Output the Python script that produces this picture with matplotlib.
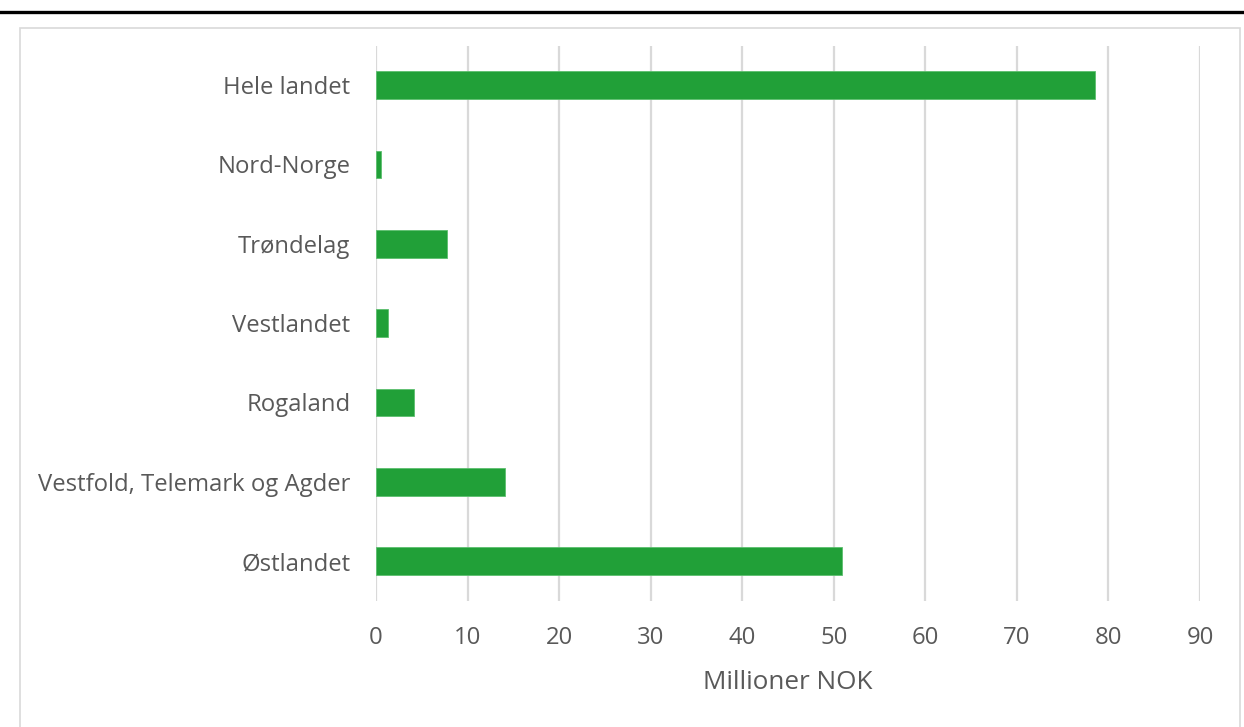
import matplotlib.pyplot as plt
from matplotlib.patches import Rectangle
from matplotlib.lines import Line2D

plt.rcParams['font.family'] = ['Open Sans', 'DejaVu Sans']

regions = ['Hele landet', 'Nord-Norge', 'Trøndelag', 'Vestlandet', 'Rogaland',
           'Vestfold, Telemark og Agder', 'Østlandet']
values = [78.5, 0.6, 7.8, 1.3, 4.2, 14.1, 50.9]
xticks = [0, 10, 20, 30, 40, 50, 60, 70, 80, 90]

txt = '#595959'
fig = plt.figure(figsize=(12.44, 7.27), dpi=100)

# thick rule under the (cropped) title, and the light frame
fig.add_artist(Line2D([0, 1], [1 - 12 / 727, 1 - 12 / 727], color='black', lw=2.4))
fig.add_artist(Rectangle((20 / 1244, -0.01), 1220 / 1244, 1 - 28 / 727 + 0.01,
                         fill=False, edgecolor='#D9D9D9', lw=1.2))

ax = fig.add_axes([376 / 1244, 1 - 600.7 / 727, (1200 - 376) / 1244, (600.7 - 45.5) / 727])
pos = list(range(len(regions)))[::-1]
ax.barh(pos, values, height=0.35, color='#21A038', edgecolor='#5CBF6E', lw=0.6, zorder=3)

ax.set_xlim(0, 90)
ax.set_ylim(-0.5, len(regions) - 0.5)
ax.set_xticks(xticks)
ax.set_yticks(pos)
ax.set_yticklabels(regions)
ax.grid(axis='x', color='#D9D9D9', lw=1.6, zorder=0)
ax.tick_params(length=0, labelsize=17.2, colors=txt)
ax.tick_params(axis='y', pad=18.5)
ax.tick_params(axis='x', pad=18.5)
for s in ax.spines.values():
    s.set_visible(False)
ax.set_xlabel('Millioner NOK', fontsize=18.8, color=txt, labelpad=14)

fig.savefig('out.png', dpi=100)
